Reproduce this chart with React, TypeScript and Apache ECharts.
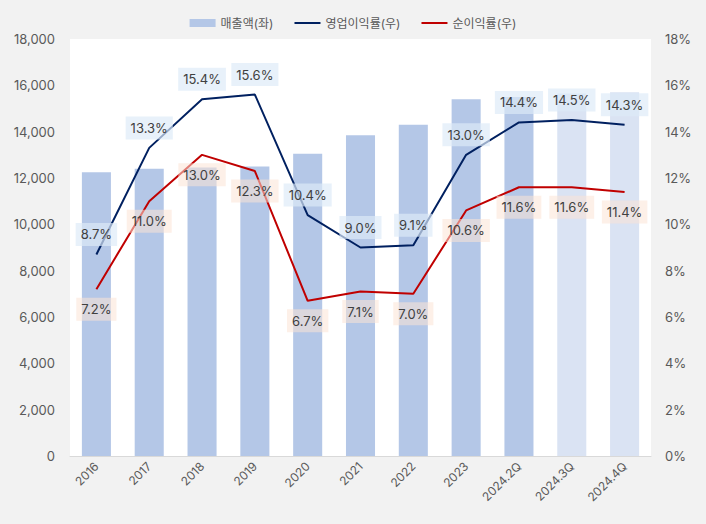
import React, { useEffect, useRef } from "react";
import * as echarts from "echarts";

const categories = ["2016", "2017", "2018", "2019", "2020", "2021", "2022", "2023", "2024.2Q", "2024.3Q", "2024.4Q"];
const revenue = [12250, 12400, 12450, 12500, 13050, 13850, 14300, 15400, 15500, 15650, 15700];
const estimateFlags = [false, false, false, false, false, false, false, false, false, true, true];
const operatingMargin = [8.7, 13.3, 15.4, 15.6, 10.4, 9.0, 9.1, 13.0, 14.4, 14.5, 14.3];
const netMargin = [7.2, 11.0, 13.0, 12.3, 6.7, 7.1, 7.0, 10.6, 11.6, 11.6, 11.4];

const FONT = "Inter, 'Noto Sans CJK KR', sans-serif";

export default function App() {
  const ref = useRef<HTMLDivElement>(null);
  useEffect(() => {
    document.body.style.margin = "0";
    document.body.style.background = "#f2f2f2";
    const chart = echarts.init(ref.current!, null, { renderer: "svg" });
    const labelBase = {
      show: true,
      distance: 8,
      color: "#404040",
      fontSize: 13,
      fontFamily: FONT,
      padding: [5, 5],
      formatter: (p: any) => Number(p.value).toFixed(1) + "%",
    };
    chart.setOption({
      animation: false,
      backgroundColor: "#f2f2f2",
      textStyle: { fontFamily: FONT },
      legend: {
        top: 12,
        left: "center",
        itemGap: 20,
        itemWidth: 26,
        itemHeight: 8,
        textStyle: { color: "#595959", fontSize: 12, fontFamily: FONT },
        data: [
          { name: "매출액(좌)", icon: "rect" },
          { name: "영업이익률(우)" },
          { name: "순이익률(우)" },
        ],
      },
      grid: {
        left: 70,
        right: 55,
        top: 39,
        bottom: 68,
        show: true,
        backgroundColor: "#ffffff",
        borderWidth: 0,
      },
      xAxis: {
        type: "category",
        data: categories,
        axisLine: { lineStyle: { color: "#d9d9d9", width: 1 } },
        axisTick: { show: false },
        axisLabel: { rotate: 45, color: "#595959", fontSize: 12, margin: 8, fontFamily: FONT },
      },
      yAxis: [
        {
          type: "value",
          min: 0,
          max: 18000,
          interval: 2000,
          splitLine: { show: false },
          axisLine: { show: false },
          axisTick: { show: false },
          axisLabel: {
            color: "#595959",
            fontSize: 13,
            margin: 15,
            fontFamily: FONT,
            formatter: (v: number) => v.toLocaleString("en-US"),
          },
        },
        {
          type: "value",
          min: 0,
          max: 18,
          interval: 2,
          splitLine: { show: false },
          axisLine: { show: false },
          axisTick: { show: false },
          axisLabel: { color: "#595959", fontSize: 13, margin: 14, fontFamily: FONT, formatter: "{value}%" },
        },
      ],
      series: [
        {
          name: "매출액(좌)",
          type: "bar",
          barWidth: "55%",
          itemStyle: { color: "#b4c7e7" },
          data: revenue.map((v, i) => ({
            value: v,
            itemStyle: { color: estimateFlags[i] ? "#dae3f3" : "#b4c7e7" },
          })),
          z: 1,
        },
        {
          name: "영업이익률(우)",
          type: "line",
          yAxisIndex: 1,
          symbol: "circle",
          symbolSize: 1,
          showSymbol: true,
          lineStyle: { color: "#002060", width: 2 },
          itemStyle: { color: "rgba(0,32,96,0)", borderWidth: 0 },
          data: operatingMargin,
          z: 3,
          label: {
            ...labelBase,
            position: "top",
            backgroundColor: "rgba(221,235,247,0.68)",
          },
        },
        {
          name: "순이익률(우)",
          type: "line",
          yAxisIndex: 1,
          symbol: "circle",
          symbolSize: 1,
          showSymbol: true,
          lineStyle: { color: "#c00000", width: 2 },
          itemStyle: { color: "rgba(192,0,0,0)", borderWidth: 0 },
          data: netMargin,
          z: 3,
          label: {
            ...labelBase,
            position: "bottom",
            backgroundColor: "rgba(251,228,213,0.55)",
          },
        },
      ],
    });
    return () => chart.dispose();
  }, []);
  return <div ref={ref} style={{ width: 706, height: 524 }} />;
}
